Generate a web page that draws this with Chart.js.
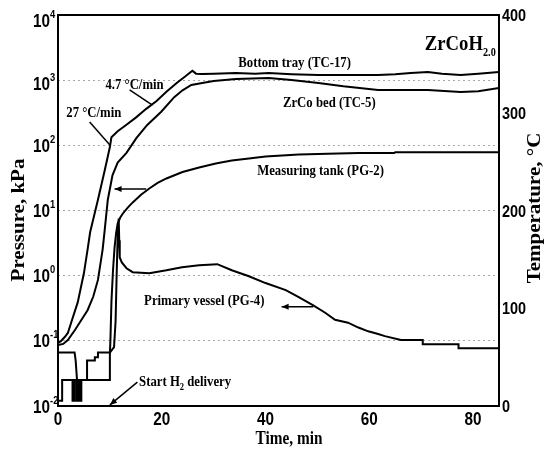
<!DOCTYPE html>
<html>
<head>
<meta charset="utf-8">
<script src="https://cdn.jsdelivr.net/npm/chart.js@4.4.1/dist/chart.umd.min.js"></script>
<style>
  html, body { margin:0; padding:0; background:#fff; }
  #wrap { width:553px; height:460px; position:relative; }
</style>
</head>
<body>
<div id="wrap"><canvas id="c"></canvas></div>
<script>
// Bottom tray (TC-17), °C
const tc17Time = [0, 0.5, 1.3, 1.9, 2.7, 3.8, 5.0, 5.7, 6.2, 7.7, 9.0, 10.0, 10.3, 11.5, 13.0, 15.0, 17.0, 19.0, 21.0, 23.0, 24.5, 25.9, 26.6, 27.8, 30.0, 34.3, 38.0, 40.6, 45.0, 50.2, 55.0, 61.7, 65.0, 68.0, 71.3, 74.0, 77.6, 81.0, 85.0];
const tc17Temp = [64.5, 66, 70.6, 74.7, 88, 106, 136, 160, 178, 211, 241, 265, 275, 281, 287, 295, 304, 312, 322, 331, 337, 343, 340, 339.6, 340, 340.7, 340, 340.7, 339.5, 338.6, 338.6, 338.6, 339.5, 340.7, 341.7, 340, 338.6, 340, 341.7];

// ZrCo bed (TC-5), °C
const tc5Time = [0, 1.0, 1.9, 3.3, 4.5, 5.7, 6.8, 7.7, 8.6, 9.0, 9.6, 10.5, 11.5, 13.2, 15.1, 17.2, 19.9, 22.4, 24.0, 25.7, 27.8, 30.0, 34.3, 40.6, 45.0, 50.2, 55.0, 61.7, 66.0, 71.3, 77.6, 81.0, 85.0];
const tc5Temp = [62.4, 63.5, 67.5, 78, 88, 98, 112, 129, 160, 180, 211, 236, 249, 259, 274, 287.5, 301, 316, 323, 328.4, 330.4, 332.5, 334.5, 335.6, 333.5, 330.4, 327, 323.3, 323.3, 323.3, 321.2, 322, 325.3];

// Measuring tank (PG-2), kPa
const pg2Time = [0, 3.2, 3.4, 3.6, 3.8, 3.9, 4.1, 5.6, 5.6, 7.1, 7.1, 7.7, 7.7, 10.0, 10.1, 10.3, 10.6, 10.9, 11.2, 11.5, 12.0, 12.5, 13.4, 14.4, 16.0, 17.6, 19.2, 20.9, 24.0, 27.2, 30.4, 33.5, 36.8, 40.0, 46.4, 52.0, 58.0, 64.8, 65.0, 75.0, 85.0];
const pg2Press = [0.066, 0.066, 0.05, 0.03, 0.016, 0.012, 0.025, 0.025, 0.05, 0.05, 0.056, 0.056, 0.066, 0.066, 0.1, 0.4, 1.2, 2.7, 4.5, 6.3, 7.8, 9.0, 11, 13.3, 17.5, 21.8, 26.5, 31, 39, 45.7, 52.5, 58.5, 63, 67.3, 72.2, 74.5, 76, 76.5, 78, 78.5, 78.5];

// Primary vessel (PG-4), kPa
const pg4Time = [0, 0.8, 0.8, 2.8, 2.8, 3.1, 3.1, 3.5, 3.5, 3.8, 3.8, 4.15, 4.15, 4.5, 4.5, 10.0, 10.0, 10.8, 11.1, 11.3, 11.5, 11.7, 11.8, 11.9, 12.3, 13.2, 14.4, 17.6, 20.9, 23.9, 27.2, 30.7, 33.5, 36.8, 40.0, 43.9, 46.4, 49.2, 51.5, 53.4, 55.9, 57.9, 59.8, 61.7, 63.0, 66.1, 70.3, 70.3, 77.2, 77.2, 85.0];
const pg4Press = [0.012, 0.012, 0.025, 0.025, 0.012, 0.012, 0.025, 0.025, 0.012, 0.012, 0.025, 0.025, 0.012, 0.012, 0.025, 0.025, 0.066, 0.08, 0.2, 1.0, 4.0, 7.5, 3.5, 1.9, 1.6, 1.3, 1.13, 1.09, 1.21, 1.35, 1.44, 1.50, 1.21, 0.98, 0.77, 0.60, 0.47, 0.35, 0.27, 0.21, 0.19, 0.16, 0.14, 0.127, 0.118, 0.103, 0.103, 0.089, 0.089, 0.077, 0.077];

// tick labels
const timeTicks = [0, 20, 40, 60, 80];
const pressTicks = [0.01, 0.1, 1, 10, 100, 1000, 10000];
const tempTicks = [0, 100, 200, 300, 400];

const SX = 0.85; // the original text is a bit narrow
const SANS = '"Liberation Sans", Arial, sans-serif';
const SERIF = '"Liberation Serif", "Times New Roman", serif';

const pts = (xs, ys) => xs.map((x, i) => ({ x, y: ys[i] }));

// segs: [text, size, family, dy]
function rich(ctx, segs, x, y, align) {
  let w = 0;
  segs.forEach(s => { ctx.font = `bold ${s[1]}px ${s[2]}`; w += ctx.measureText(s[0]).width * SX; });
  let cx = align === "center" ? x - w / 2 : align === "right" ? x - w : x;
  ctx.textAlign = "left";
  ctx.textBaseline = "alphabetic";
  segs.forEach(s => {
    ctx.font = `bold ${s[1]}px ${s[2]}`;
    const sw = ctx.measureText(s[0]).width * SX;
    ctx.save();
    ctx.translate(cx, y + (s[3] || 0));
    ctx.scale(SX, 1);
    ctx.fillText(s[0], 0, 0);
    ctx.restore();
    cx += sw;
  });
}

function vtitle(ctx, text, x, y, size) {
  ctx.save();
  ctx.translate(x, y);
  ctx.rotate(-Math.PI / 2);
  ctx.scale(1, SX);
  ctx.font = `bold ${size}px ${SERIF}`;
  ctx.textAlign = "center";
  ctx.textBaseline = "middle";
  ctx.fillText(text, 0, 0);
  ctx.restore();
}

function arrow(ctx, x1, y1, x2, y2, head) {
  ctx.beginPath(); ctx.moveTo(x1, y1); ctx.lineTo(x2, y2); ctx.stroke();
  if (!head) return;
  const a = Math.atan2(y2 - y1, x2 - x1), L = 7, W = 3;
  ctx.beginPath();
  ctx.moveTo(x2, y2);
  ctx.lineTo(x2 - L * Math.cos(a) + W * Math.sin(a), y2 - L * Math.sin(a) - W * Math.cos(a));
  ctx.lineTo(x2 - L * Math.cos(a) - W * Math.sin(a), y2 - L * Math.sin(a) + W * Math.cos(a));
  ctx.closePath(); ctx.fill();
}

const decor = {
  id: "decor",
  afterDraw(chart) {
    const { ctx, chartArea: a, scales } = chart;
    const X = scales.x, P = scales.y, T = scales.yT;
    const px = v => X.getPixelForValue(v);
    ctx.save();
    ctx.fillStyle = "#000";
    ctx.strokeStyle = "#000";

    // frame
    ctx.lineWidth = 2;
    ctx.strokeRect(a.left, a.top, a.right - a.left, a.bottom - a.top);

    // tick labels
    X.ticks.forEach(t => rich(ctx, [[String(t.value), 18, SANS]], px(t.value), 425, "center"));
    T.ticks.forEach(t => rich(ctx, [[String(t.value), 17, SANS]], 502, T.getPixelForValue(t.value) + 6, "left"));
    P.ticks.forEach(t => {
      const e = Math.round(Math.log10(t.value));
      const y = P.getPixelForValue(t.value) + (e === 4 ? 5 : e === 3 ? 3 : 0);
      rich(ctx, [["10", 18, SANS, 0], [String(e), 11, SANS, -9]], 33, y + 6.5, "left");
    });

    // axis titles
    rich(ctx, [["Time, min", 18, SERIF]], 289, 444, "center");
    vtitle(ctx, "Pressure, kPa", 19, 220, 21);
    vtitle(ctx, "Temperature, °C", 535, 208, 21);

    // curve labels
    rich(ctx, [["Bottom tray (TC-17)", 15, SERIF]], px(45.6), T.getPixelForValue(346.8), "center");
    rich(ctx, [["ZrCo bed (TC-5)", 15, SERIF]], px(52.3), T.getPixelForValue(305.9), "center");
    rich(ctx, [["Measuring tank (PG-2)", 15, SERIF]], px(50.6), P.getPixelForValue(34.9), "center");
    rich(ctx, [["Primary vessel (PG-4)", 15, SERIF]], px(28.2), P.getPixelForValue(0.354), "center");
    rich(ctx, [["Start H", 15, SERIF], ["2", 10, SERIF, 4], [" delivery", 15, SERIF]], px(24.5), P.getPixelForValue(0.0203), "center");
    rich(ctx, [["4.7 °C/min", 15, SERIF]], px(14.75), T.getPixelForValue(324.3), "center");
    rich(ctx, [["27 °C/min", 15, SERIF]], px(6.9), T.getPixelForValue(295.7), "center");
    rich(ctx, [["ZrCoH", 22, SERIF], ["2.0", 12, SERIF, 6]], px(70.7), T.getPixelForValue(364.2), "left");

    // pointers
    ctx.lineWidth = 1.5;
    arrow(ctx, px(13.8), T.getPixelForValue(323.3), px(18.2), T.getPixelForValue(307.9), false);
    arrow(ctx, px(6.1), T.getPixelForValue(290.5), px(10.0), T.getPixelForValue(267), false);
    arrow(ctx, px(17.0), P.getPixelForValue(21.4), px(10.9), P.getPixelForValue(21.4), true);
    arrow(ctx, px(49.2), P.getPixelForValue(0.332), px(43.1), P.getPixelForValue(0.332), true);
    arrow(ctx, px(15.3), P.getPixelForValue(0.0233), px(10.0), P.getPixelForValue(0.0104), true);
    ctx.restore();
  }
};

new Chart(document.getElementById("c"), {
  type: "line",
  data: {
    datasets: [
      { label: "Bottom tray (TC-17)", data: pts(tc17Time, tc17Temp), yAxisID: "yT" },
      { label: "ZrCo bed (TC-5)", data: pts(tc5Time, tc5Temp), yAxisID: "yT" },
      { label: "Measuring tank (PG-2)", data: pts(pg2Time, pg2Press), yAxisID: "y" },
      { label: "Primary vessel (PG-4)", data: pts(pg4Time, pg4Press), yAxisID: "y" }
    ]
  },
  options: {
    responsive: true,
    maintainAspectRatio: false,
    animation: false,
    devicePixelRatio: 1,
    layout: { padding: { top: 15, left: 0, right: 0, bottom: 0 } },
    elements: {
      line: { borderColor: "#000", borderWidth: 2, tension: 0, fill: false },
      point: { radius: 0 }
    },
    plugins: { legend: { display: false }, tooltip: { enabled: false } },
    scales: {
      x: {
        type: "linear", min: 0, max: 85, position: "bottom",
        afterBuildTicks: s => { s.ticks = timeTicks.map(v => ({ value: v })); },
        ticks: { display: false },
        grid: { display: false, drawTicks: false },
        border: { display: false },
        afterFit: s => { s.height = 54; }
      },
      y: {
        type: "logarithmic", min: 0.01, max: 10000, position: "left",
        afterBuildTicks: s => { s.ticks = pressTicks.map(v => ({ value: v })); },
        ticks: { display: false },
        grid: { color: "#a8a8a8", lineWidth: 1, drawTicks: false },
        border: { display: false, dash: [2, 3] },
        afterFit: s => { s.width = 58; }
      },
      yT: {
        type: "linear", min: 0, max: 400, position: "right",
        afterBuildTicks: s => { s.ticks = tempTicks.map(v => ({ value: v })); },
        ticks: { display: false },
        grid: { display: false, drawTicks: false },
        border: { display: false },
        afterFit: s => { s.width = 54; }
      }
    }
  },
  plugins: [decor]
});
</script>
</body>
</html>
